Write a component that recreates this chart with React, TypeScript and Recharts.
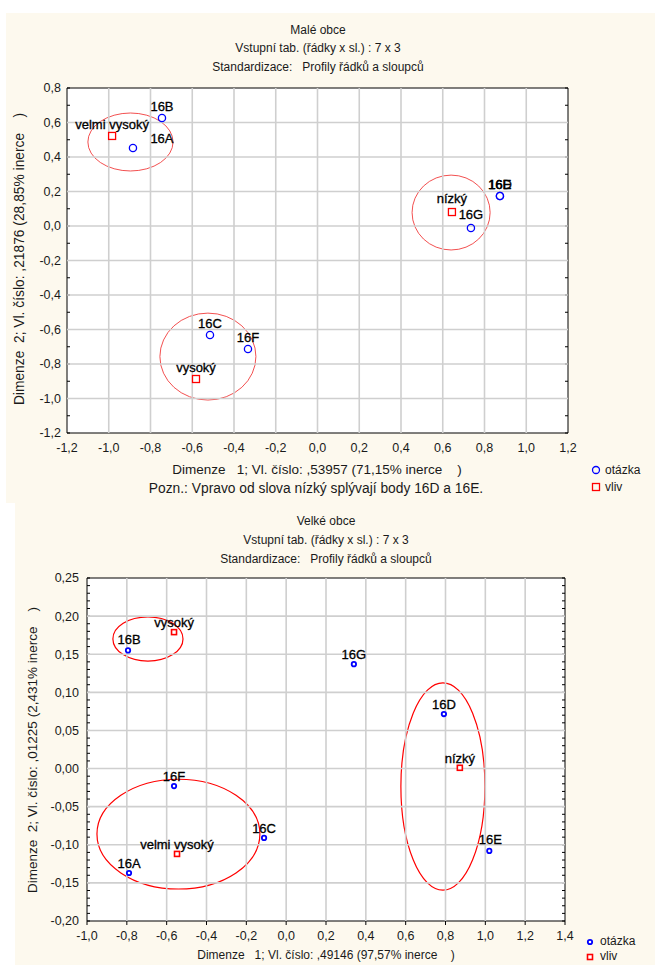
import React from 'react';
import { ScatterChart, Scatter, XAxis, YAxis, ReferenceArea } from 'recharts';

// ---------- data ----------
const questionLabels = ['16A', '16B', '16C', '16D', '16E', '16F', '16G'];
const influenceLabels = ['velmi vysoký', 'vysoký', 'nízký'];

// Malé obce
const smallQX = [-0.884, -0.745, -0.515, 0.874, 0.874, -0.333, 0.735];
const smallQY = [0.452, 0.626, -0.632, 0.174, 0.174, -0.713, -0.012];
const smallIX = [-0.984, -0.582, 0.644];
const smallIY = [0.522, -0.887, 0.081];
const smallEllX = [-0.896, -0.525, 0.64];
const smallEllY = [0.487, -0.757, 0.078];
const smallEllRX = [0.204, 0.23, 0.187];
const smallEllRY = [0.168, 0.252, 0.217];
const smallXTicks = [-1.2, -1.0, -0.8, -0.6, -0.4, -0.2, 0, 0.2, 0.4, 0.6, 0.8, 1.0, 1.2];
const smallYTicks = [-1.2, -1.0, -0.8, -0.6, -0.4, -0.2, 0, 0.2, 0.4, 0.6, 0.8];

// Velké obce
const largeQX = [-0.789, -0.794, -0.111, 0.792, 1.02, -0.563, 0.34];
const largeQY = [-0.137, 0.155, -0.091, 0.0715, -0.108, -0.023, 0.137];
const largeIX = [-0.548, -0.563, 0.872];
const largeIY = [-0.112, 0.179, 0.001];
const largeEllX = [-0.694, -0.541, 0.787];
const largeEllY = [0.17, -0.086, -0.0236];
const largeEllRX = [0.176, 0.409, 0.211];
const largeEllRY = [0.029, 0.072, 0.136];
const largeXTicks = [-1.0, -0.8, -0.6, -0.4, -0.2, 0, 0.2, 0.4, 0.6, 0.8, 1.0, 1.2, 1.4];
const largeYTicks = [-0.2, -0.15, -0.1, -0.05, 0, 0.05, 0.1, 0.15, 0.2, 0.25];

// ---------- helpers ----------
const FONT = '"Liberation Sans", Arial, sans-serif';
const TXT = '#1a1a1a';
const GRID = '#cfcfcf';

const minorTicks = (a: number, b: number, step: number) => {
  const out: number[] = [];
  const n = Math.round((b - a) / step);
  for (let i = 0; i <= n; i++) out.push(Math.round((a + i * step) * 1000) / 1000);
  return out;
};

const fmt = (d: number) => (v: number) => {
  if (Math.abs(v) < 1e-9) return (0).toFixed(d).replace('.', ',');
  return v.toFixed(d).replace('.', ',');
};

const rows = (names: string[], xs: number[], ys: number[]) =>
  names.map((name, i) => ({ name, x: xs[i], y: ys[i] }));

const ells = (xs: number[], ys: number[], rxs: number[], rys: number[]) =>
  xs.map((x, i) => ({ x1: x - rxs[i], x2: x + rxs[i], y1: ys[i] - rys[i], y2: ys[i] + rys[i] }));

type Offs = Record<string, [number, number]>;

const smallOffsets: Offs = {
  '16A': [29, -5],
  '16G': [0, -9],
  'nízký': [0, -9],
};
const largeOffsets: Offs = {
  '16B': [1, -6],
  '16E': [1, -7],
};

const Empty = () => <g />;

interface PanelProps {
  width: number;
  height: number;
  margin: { top: number; right: number; bottom: number; left: number };
  xDomain: [number, number];
  yDomain: [number, number];
  xTicks: number[];
  yTicks: number[];
  xMinor: number[];
  yMinor: number[];
  xDec: number;
  yDec: number;
  questions: { name: string; x: number; y: number }[];
  influences: { name: string; x: number; y: number }[];
  ellipses: { x1: number; x2: number; y1: number; y2: number }[];
  offsets: Offs;
  defaultDy: number;
  big: boolean;
  xOutward: boolean;
  yTickMargin: number;
  xTickMargin: number;
  tickFont: number;
}

const Panel = (p: PanelProps) => {
  const labelFont = 13;
  const labelText = (x: number, y: number, s: string) => (
    <text
      x={x}
      y={y}
      textAnchor="middle"
      fontSize={labelFont}
      fontFamily={FONT}
      fill="#000"
      stroke="#000"
      strokeWidth={0.3}
    >
      {s}
    </text>
  );
  const circleShape = (props: any) => {
    const { cx, cy, payload } = props;
    const [dx, dy] = p.offsets[payload.name] ?? [0, p.defaultDy];
    return (
      <g>
        {p.big ? (
          <circle cx={cx} cy={cy} r={3.6} fill="none" stroke="#0000ff" strokeWidth={1.3} />
        ) : (
          <circle cx={cx} cy={cy} r={2.2} fill="#fff" stroke="#0000ff" strokeWidth={1.8} />
        )}
        {labelText(cx + dx, cy + dy, payload.name)}
      </g>
    );
  };
  const squareShape = (props: any) => {
    const { cx, cy, payload } = props;
    const [dx, dy] = p.offsets[payload.name] ?? [0, p.defaultDy];
    const s = p.big ? 7 : 5;
    return (
      <g>
        <rect
          x={cx - s / 2}
          y={cy - s / 2}
          width={s}
          height={s}
          fill="#fff"
          stroke="#ff0000"
          strokeWidth={p.big ? 1.3 : 1.6}
        />
        {labelText(cx + dx, cy + dy, payload.name)}
      </g>
    );
  };
  const tickStyle = { fontSize: p.tickFont, fill: TXT, fontFamily: FONT };
  // grid line segments: each is a two-point series joined by the scatter's line
  const vGrid = p.xTicks.slice(1, -1).map((t) => [
    { x: t, y: p.yDomain[0] },
    { x: t, y: p.yDomain[1] },
  ]);
  const hGrid = p.yTicks.slice(1, -1).map((t) => [
    { x: p.xDomain[0], y: t },
    { x: p.xDomain[1], y: t },
  ]);
  return (
    <ScatterChart width={p.width} height={p.height} margin={p.margin}>
      <XAxis
        xAxisId="x"
        dataKey="x"
        type="number"
        domain={p.xDomain}
        ticks={p.xTicks}
        interval={0}
        allowDataOverflow
        tickFormatter={fmt(p.xDec)}
        height={1}
        axisLine={{ stroke: '#000' }}
        tickLine={p.xOutward ? { stroke: '#000' } : false}
        tickSize={p.xOutward ? 4 : 0}
        tickMargin={p.xTickMargin}
        tick={tickStyle}
      />
      <YAxis
        yAxisId="y"
        dataKey="y"
        type="number"
        domain={p.yDomain}
        ticks={p.yTicks}
        interval={0}
        allowDataOverflow
        tickFormatter={fmt(p.yDec)}
        width={1}
        axisLine={{ stroke: '#000' }}
        tickLine={false}
        tickSize={0}
        tickMargin={p.yTickMargin}
        tick={tickStyle}
      />
      {/* minor tick axes / frame */}
      <XAxis
        xAxisId="xt"
        type="number"
        orientation="top"
        mirror
        domain={p.xDomain}
        ticks={p.xMinor}
        interval={0}
        allowDataOverflow
        height={1}
        axisLine={{ stroke: '#000' }}
        tickLine={{ stroke: '#000' }}
        tickSize={3}
        tick={Empty}
      />
      <XAxis
        xAxisId="xb"
        type="number"
        orientation="bottom"
        mirror={!p.xOutward}
        domain={p.xDomain}
        ticks={p.xMinor}
        interval={0}
        allowDataOverflow
        height={1}
        axisLine={false}
        tickLine={{ stroke: '#000' }}
        tickSize={3}
        tick={Empty}
      />
      <YAxis
        yAxisId="yl"
        type="number"
        orientation="left"
        mirror
        domain={p.yDomain}
        ticks={p.yMinor}
        interval={0}
        allowDataOverflow
        width={1}
        axisLine={false}
        tickLine={{ stroke: '#000' }}
        tickSize={3}
        tick={Empty}
      />
      <YAxis
        yAxisId="yr"
        type="number"
        orientation="right"
        mirror
        domain={p.yDomain}
        ticks={p.yMinor}
        interval={0}
        allowDataOverflow
        width={1}
        axisLine={{ stroke: '#000' }}
        tickLine={{ stroke: '#000' }}
        tickSize={3}
        tick={Empty}
      />
      {/* grid */}
      {vGrid.map((d, i) => (
        <Scatter
          key={'gv' + i}
          xAxisId="x"
          yAxisId="y"
          data={d}
          line={{ stroke: GRID, strokeWidth: 1.6 }}
          shape={Empty}
          legendType="none"
          isAnimationActive={false}
        />
      ))}
      {hGrid.map((d, i) => (
        <Scatter
          key={'gh' + i}
          xAxisId="x"
          yAxisId="y"
          data={d}
          line={{ stroke: GRID, strokeWidth: 1.6 }}
          shape={Empty}
          legendType="none"
          isAnimationActive={false}
        />
      ))}
      {p.ellipses.map((e, i) => (
        <ReferenceArea
          key={i}
          xAxisId="x"
          yAxisId="y"
          x1={e.x1}
          x2={e.x2}
          y1={e.y1}
          y2={e.y2}
          ifOverflow="visible"
          shape={(sp: any) => (
            <ellipse
              cx={sp.x + sp.width / 2}
              cy={sp.y + sp.height / 2}
              rx={Math.abs(sp.width) / 2}
              ry={Math.abs(sp.height) / 2}
              fill="none"
              stroke={p.big ? '#f03c3c' : '#ff0000'}
              strokeWidth={p.big ? 0.9 : 1.2}
            />
          )}
        />
      ))}
      <Scatter
        name="otázka"
        xAxisId="x"
        yAxisId="y"
        data={p.questions}
        shape={circleShape}
        isAnimationActive={false}
      />
      <Scatter
        name="vliv"
        xAxisId="x"
        yAxisId="y"
        data={p.influences}
        shape={squareShape}
        isAnimationActive={false}
      />
    </ScatterChart>
  );
};

const Txt = ({ x, y, children, size = 12 }: any) => (
  <div
    style={{
      position: 'absolute',
      left: x - 300,
      top: y - 8,
      width: 600,
      textAlign: 'center',
      fontSize: size,
      lineHeight: '16px',
      fontFamily: FONT,
      color: TXT,
      whiteSpace: 'pre',
    }}
  >
    {children}
  </div>
);

const VTxt = ({ x, y, children, size = 12 }: any) => (
  <div
    style={{
      position: 'absolute',
      left: x - 250,
      top: y - 8,
      width: 500,
      textAlign: 'center',
      fontSize: size,
      lineHeight: '16px',
      fontFamily: FONT,
      color: TXT,
      whiteSpace: 'pre',
      transform: 'rotate(-90deg)',
      transformOrigin: '250px 8px',
    }}
  >
    {children}
  </div>
);

const LegendBox = ({ x, y, big }: { x: number; y: number; big: boolean }) => (
  <div style={{ position: 'absolute', left: x, top: y, width: 70, height: 34 }}>
    <svg width={14} height={34} style={{ position: 'absolute', left: 0, top: 0 }}>
      {big ? (
        <>
          <circle cx={6} cy={8} r={3.5} fill="none" stroke="#0000ff" strokeWidth={1.3} />
          <rect x={2.5} y={21.5} width={7} height={7} fill="none" stroke="#ff0000" strokeWidth={1.3} />
        </>
      ) : (
        <>
          <circle cx={6} cy={8} r={2.2} fill="#fff" stroke="#0000ff" strokeWidth={1.8} />
          <rect x={3.5} y={20.5} width={5} height={5} fill="#fff" stroke="#ff0000" strokeWidth={1.6} />
        </>
      )}
    </svg>
    <div
      style={{
        position: 'absolute',
        left: big ? 15 : 16,
        top: 0,
        fontSize: 12,
        lineHeight: big ? '17px' : '15px',
        fontFamily: FONT,
        color: TXT,
        whiteSpace: 'pre',
      }}
    >
      {'otázka\nvliv'}
    </div>
  </div>
);

export default function App() {
  const smallQ = rows(questionLabels, smallQX, smallQY);
  const smallI = rows(influenceLabels, smallIX, smallIY);
  const largeQ = rows(questionLabels, largeQX, largeQY);
  const largeI = rows(influenceLabels, largeIX, largeIY);

  return (
    <div style={{ position: 'absolute', left: 0, top: 0, width: 655, height: 965, background: '#fff', overflow: 'hidden' }}>
      <div style={{ position: 'absolute', left: 6, top: 13, width: 649, height: 490, background: '#fdf9ee' }} />
      <div style={{ position: 'absolute', left: 15, top: 503, width: 640, height: 462, background: '#fdf9ee' }} />
      {/* white plot backgrounds */}
      <div style={{ position: 'absolute', left: 67, top: 88, width: 501, height: 345, background: '#fff' }} />
      <div style={{ position: 'absolute', left: 87, top: 578, width: 478, height: 343, background: '#fff' }} />

      {/* top chart */}
      <div style={{ position: 'absolute', left: 0, top: 0 }}>
        <Panel
          width={655}
          height={503}
          margin={{ top: 88, right: 87, bottom: 69, left: 66 }}
          xDomain={[-1.2, 1.2]}
          yDomain={[-1.2, 0.8]}
          xTicks={smallXTicks}
          yTicks={smallYTicks}
          xMinor={minorTicks(-1.2, 1.2, 0.1)}
          yMinor={minorTicks(-1.2, 0.8, 0.1)}
          xDec={1}
          yDec={1}
          questions={smallQ}
          influences={smallI}
          ellipses={ells(smallEllX, smallEllY, smallEllRX, smallEllRY)}
          offsets={smallOffsets}
          defaultDy={-7}
          big={true}
          xOutward={false}
          yTickMargin={6}
          xTickMargin={10}
          tickFont={12.5}
        />
      </div>
      <Txt x={318} y={30}>Malé obce</Txt>
      <Txt x={318} y={48}>Vstupní tab. (řádky x sl.) : 7 x 3</Txt>
      <Txt x={318} y={67}>{'Standardizace:   Profily řádků a sloupců'}</Txt>
      <VTxt x={20} y={259} size={13.8}>{'Dimenze  2; Vl. číslo: ,21876 (28,85% inerce    )'}</VTxt>
      <Txt x={317} y={470} size={13.5}>{'Dimenze   1; Vl. číslo: ,53957 (71,15% inerce    )'}</Txt>
      <Txt x={316} y={489} size={13.8}>Pozn.: Vpravo od slova nízký splývají body 16D a 16E.</Txt>
      <LegendBox x={590} y={462} big={true} />

      {/* bottom chart */}
      <div style={{ position: 'absolute', left: 0, top: 503 }}>
        <Panel
          width={655}
          height={462}
          margin={{ top: 75, right: 90, bottom: 42, left: 86 }}
          xDomain={[-1.0, 1.4]}
          yDomain={[-0.2, 0.25]}
          xTicks={largeXTicks}
          yTicks={largeYTicks}
          xMinor={minorTicks(-1.0, 1.4, 0.1)}
          yMinor={minorTicks(-0.2, 0.25, 0.01)}
          xDec={1}
          yDec={2}
          questions={largeQ}
          influences={largeI}
          ellipses={ells(largeEllX, largeEllY, largeEllRX, largeEllRY)}
          offsets={largeOffsets}
          defaultDy={-5}
          big={false}
          xOutward={true}
          yTickMargin={8}
          xTickMargin={6}
          tickFont={12.5}
        />
      </div>
      <Txt x={326} y={521}>Velké obce</Txt>
      <Txt x={326} y={540}>Vstupní tab. (řádky x sl.) : 7 x 3</Txt>
      <Txt x={326} y={559}>{'Standardizace:   Profily řádků a sloupců'}</Txt>
      <VTxt x={33} y={750} size={13.5}>{'Dimenze  2; Vl. číslo: ,01225 (2,431% inerce    )'}</VTxt>
      <Txt x={326} y={955}>{'Dimenze   1; Vl. číslo: ,49146 (97,57% inerce    )'}</Txt>
      <LegendBox x={584} y={934} big={false} />
    </div>
  );
}
